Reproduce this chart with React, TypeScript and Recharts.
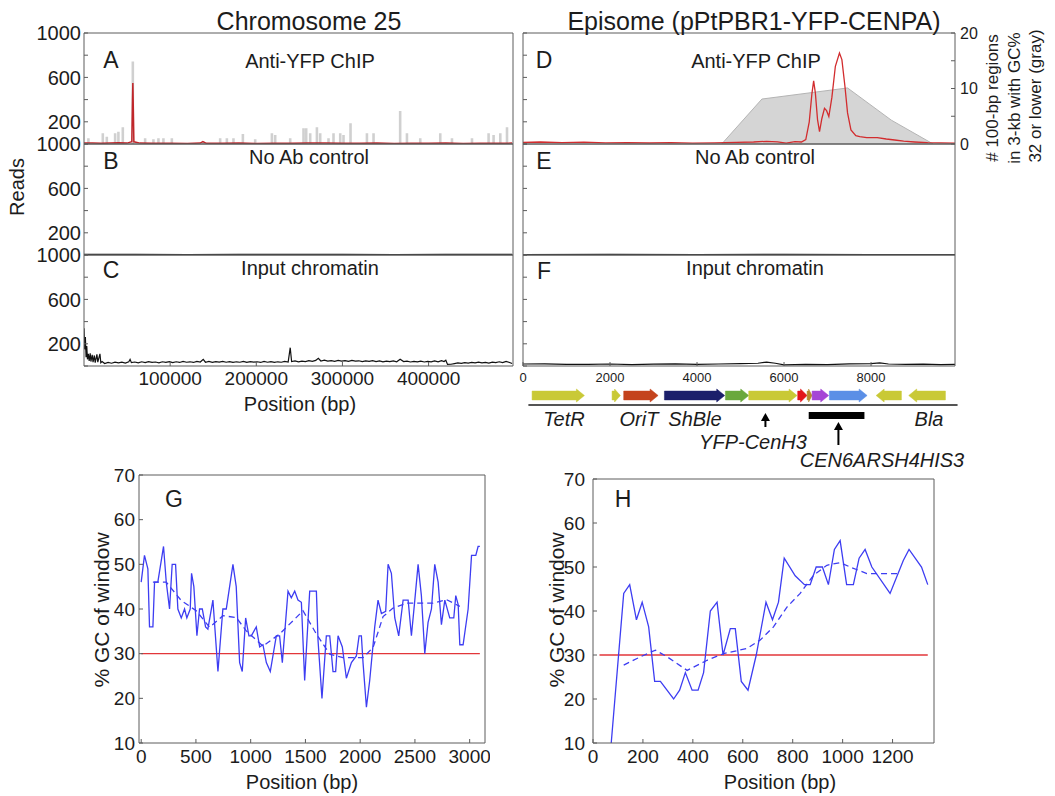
import React from 'react';
import { ComposedChart, Line, Area, XAxis, YAxis, ReferenceArea, ReferenceLine } from 'recharts';

const FONT = '"Liberation Sans", Arial, Helvetica, sans-serif';
const INK = '#1c1c1c';
const AX = '#5c5c5c';

// chromosome 25 (panels A-C)
const chrTicks = [100000, 200000, 300000, 400000];
const readTicks = [0, 200, 400, 600, 800, 1000];
const readLabels = [200, 600, 1000];

const chrGcPos = [5110, 21830, 26480, 36120, 39950, 45060, 56680, 70960, 80600, 86410, 92210, 101970, 138670, 158060, 165850, 173510, 184430, 198710, 218110, 221940, 239360, 254810, 257950, 262590, 270370, 274200, 283840, 289650, 297430, 301260, 309390, 328440, 336110, 367010, 374900, 390330, 413560, 427160, 450390, 469670, 475480, 483260, 491040];
const chrGcReads = [51, 96, 66, 96, 111, 150, 744, 51, 42, 51, 51, 51, 21, 51, 51, 51, 90, 42, 96, 81, 51, 142, 142, 96, 150, 96, 51, 96, 96, 81, 187, 96, 96, 298, 96, 51, 96, 51, 51, 96, 81, 96, 150];
const chrGcHalfWidth = 1500; // bp each side of a gray window bar

const chrChipPos = [0, 10000, 20000, 30000, 40000, 50000, 55500, 56300, 56700, 57100, 57900, 65000, 80000, 100000, 120000, 135000, 138000, 142000, 160000, 180000, 200000, 220000, 240000, 260000, 280000, 300000, 320000, 340000, 360000, 380000, 400000, 420000, 440000, 460000, 480000, 497000];
const chrChipReads = [8, 10, 6, 9, 12, 8, 20, 400, 550, 380, 20, 8, 6, 7, 5, 8, 22, 6, 6, 8, 5, 7, 6, 9, 8, 7, 6, 8, 5, 7, 6, 8, 5, 7, 6, 8];

const chrNoAbPos = [0, 60000, 120000, 180000, 240000, 300000, 360000, 420000, 497000];
const chrNoAbReads = [5, 6, 4, 5, 6, 5, 4, 5, 5];

const chrInputPos = [0, 800, 1600, 2400, 3200, 4000, 5000, 6000, 7200, 8000, 9500, 10500, 12000, 13000, 15000, 16000, 18500, 19500, 21000, 24000, 28000, 32000, 36000, 40000, 44000, 48000, 52000, 53500, 55000, 59000, 63000, 67000, 71000, 75000, 79000, 83000, 87000, 91000, 95000, 99000, 103000, 107000, 111000, 115000, 119000, 123000, 127000, 131000, 135000, 138400, 141000, 145000, 149000, 153000, 157000, 161000, 165000, 169000, 173000, 177000, 181000, 185000, 189000, 193000, 197000, 201000, 205000, 209000, 213000, 217000, 221000, 225000, 229000, 233000, 237000, 239400, 241000, 245000, 249000, 253000, 257000, 261000, 265000, 269000, 272000, 275000, 279000, 283000, 287000, 291000, 295000, 299000, 303000, 307000, 311000, 315000, 319000, 323000, 327000, 331000, 335000, 339000, 343000, 347000, 351000, 355000, 359000, 363000, 367000, 371000, 375000, 379000, 383000, 387000, 391000, 395000, 399000, 403000, 407000, 411000, 415000, 418000, 420000, 422000, 426000, 430000, 434000, 438000, 442000, 446000, 450000, 454000, 458000, 462000, 466000, 470000, 474000, 478000, 482000, 486000, 490000, 494000, 497000];
const chrInputReads = [340, 150, 260, 80, 180, 60, 110, 45, 115, 40, 100, 35, 95, 30, 105, 35, 110, 30, 40, 22, 32, 25, 35, 28, 34, 26, 38, 60, 30, 36, 28, 38, 30, 40, 32, 36, 28, 38, 33, 40, 30, 38, 32, 42, 34, 38, 32, 42, 36, 60, 34, 42, 33, 40, 35, 42, 34, 40, 32, 38, 34, 42, 33, 40, 35, 38, 32, 42, 34, 40, 33, 38, 34, 42, 36, 165, 40, 46, 38, 44, 40, 48, 42, 50, 70, 45, 52, 44, 48, 42, 50, 44, 48, 42, 50, 44, 47, 40, 46, 42, 48, 40, 46, 38, 44, 40, 46, 38, 60, 40, 44, 36, 42, 38, 44, 36, 42, 38, 46, 38, 48, 40, 52, 14, 16, 22, 28, 24, 30, 26, 32, 28, 34, 28, 32, 26, 34, 30, 38, 30, 42, 32, 22];

// episome (panels D-F)
const epiTicks = [0, 2000, 4000, 6000, 8000];
const gcCountTicks = [0, 5, 10, 15, 20];
const gcCountLabels = [0, 10, 20];

const epiChipPos = [0, 400, 900, 1400, 1900, 2400, 2900, 3400, 3900, 4400, 4900, 5300, 5600, 5850, 6050, 6250, 6400, 6500, 6580, 6640, 6681, 6720, 6770, 6816, 6870, 6930, 6978, 7030, 7100, 7180, 7274, 7330, 7400, 7460, 7538, 7650, 7741, 7900, 8143, 8350, 8543, 8750, 9000, 9300, 9600, 9930];
const epiChipReads = [14, 18, 12, 16, 10, 13, 9, 12, 8, 11, 14, 18, 24, 20, 8, 22, 18, 40, 200, 450, 569, 460, 220, 111, 230, 322, 300, 247, 420, 700, 819, 760, 520, 280, 127, 75, 66, 58, 57, 45, 36, 25, 18, 12, 10, 8];

const epiGcPos = [4568, 5492, 7460, 8465, 9428];
const epiGcCount = [0, 8.1, 10.1, 4.3, 0];

const epiNoAbPos = [0, 2000, 4000, 6000, 8000, 9930];
const epiNoAbReads = [4, 5, 4, 5, 4, 4];

const epiInputPos = [0, 500, 1000, 1500, 2000, 2500, 3000, 3500, 4000, 4500, 5000, 5400, 5600, 5800, 6000, 6500, 7000, 7500, 8000, 8200, 8400, 8800, 9200, 9600, 9930];
const epiInputReads = [18, 20, 15, 14, 18, 12, 16, 20, 14, 18, 22, 25, 35, 25, 10, 14, 12, 20, 22, 28, 18, 14, 16, 12, 14];

// plasmid map
const geneStart = [209, 2048, 2315, 3251, 4653, 5189, 6315, 6531, 6646, 7044, 8118, 8867];
const geneEnd = [1412, 2239, 3106, 4637, 5189, 6301, 6531, 6646, 7028, 7911, 8699, 9711];
const geneDir = [1, 1, 1, 1, 1, 1, 1, 1, 1, 1, -1, -1];
const geneColors = ['#c9c936', '#c9c936', '#c4431d', '#1b1f6b', '#6aa83c', '#c9c936', '#e3151a', '#b68a2c', '#a546d6', '#5b8fe6', '#c9c936', '#c9c936'];
const mapRange = [124, 9990];
const cenBlock = [6568, 7849];
const markPos = [5573, 7251];

// GC windows (panels G, H)
const gcChrPos = [0, 30, 61, 76, 107, 122, 152, 204, 229, 259, 283, 314, 335, 366, 396, 417, 448, 460, 481, 509, 533, 558, 588, 609, 655, 701, 746, 777, 838, 868, 899, 923, 954, 984, 1006, 1051, 1082, 1112, 1143, 1179, 1234, 1264, 1289, 1341, 1371, 1402, 1432, 1463, 1493, 1539, 1600, 1615, 1651, 1691, 1722, 1752, 1776, 1798, 1837, 1874, 1920, 1965, 1990, 2011, 2026, 2057, 2087, 2133, 2163, 2194, 2233, 2255, 2285, 2316, 2352, 2392, 2438, 2468, 2499, 2529, 2559, 2590, 2620, 2651, 2681, 2712, 2742, 2773, 2818, 2855, 2873, 2895, 2910, 2940, 2986, 3017, 3056, 3077, 3093];
const gcChrPct = [46, 52, 49, 36, 36, 46, 46, 54, 46, 40, 50, 50, 40, 38, 40, 38, 40, 48, 45, 34, 40, 40, 36, 35.5, 42, 26, 40, 40, 50, 45, 28, 26, 38, 34, 34, 36, 31.5, 32, 28, 26, 34, 34, 28, 44, 42.5, 44, 42, 41.5, 24, 44, 44, 33, 20, 34, 34, 26, 26, 34, 31.5, 24.5, 28, 29.5, 34, 34, 28, 18, 24, 36, 42, 39, 39.5, 50, 48, 38, 34, 42, 42, 34, 42, 50, 43, 30, 37, 40, 50, 46, 36.5, 42, 38, 38, 43, 41, 32, 32, 40, 52, 52, 54, 54];
const gcChrSmoothPos = [107, 229, 366, 503, 625, 746, 868, 960, 1112, 1264, 1478, 1600, 1722, 1843, 2026, 2118, 2209, 2300, 2422, 2544, 2666, 2788, 2910];
const gcChrSmoothPct = [46, 46, 41.9, 39.6, 35.9, 38.5, 38.1, 35.1, 31.7, 34.4, 39.6, 34.4, 29.9, 29.1, 29.1, 31.4, 38.3, 40.2, 41.3, 41.3, 41.3, 42.1, 40.6];
const gcChrCutPos = [0, 3093];

const gcEpiPos = [73, 123, 147, 174, 197, 223, 247, 270, 323, 347, 370, 397, 421, 443, 470, 497, 521, 550, 570, 594, 621, 654, 693, 719, 743, 766, 810, 847, 870, 894, 919, 943, 967, 990, 1016, 1043, 1066, 1090, 1117, 1190, 1243, 1266, 1316, 1341];
const gcEpiPct = [10, 44, 46, 38, 42, 36.4, 24, 24, 20, 22, 26, 22, 22, 26, 40, 42, 30, 36, 36, 24, 22, 30, 42, 38, 42, 52, 48, 46, 46, 50, 50, 46, 54, 56, 46, 46, 52, 54, 50, 44, 51.5, 54, 50, 46];
const gcEpiSmoothPos = [123, 190, 250, 297, 377, 457, 523, 617, 670, 723, 777, 830, 883, 937, 990, 1030, 1097, 1150, 1230];
const gcEpiSmoothPct = [27.7, 29.6, 31.1, 29.6, 26.5, 28.8, 30.3, 31.5, 33.4, 36.4, 40.9, 44, 48.1, 50.4, 51, 50, 48.5, 48.5, 48.5];
const gcEpiCutPos = [26, 1341];

const gcCutoff = 30;
const pctTicks = [10, 20, 30, 40, 50, 60, 70];

const pts = (xs: number[], ys: number[]) => xs.map((x, i) => ({ x, y: ys[i] }));

// thin gray window bars as an area outline
const barTable = (xs: number[], ys: number[], hw: number) =>
  xs.flatMap((x, i) => [
    { x: x - hw, y: 0 },
    { x: x - hw, y: ys[i] },
    { x: x + hw, y: ys[i] },
    { x: x + hw, y: 0 },
  ]);

const Txt = ({ x, y, size, italic, rotate, children }: { x: number; y: number; size: number; italic?: boolean; rotate?: boolean; children: React.ReactNode }) => (
  <div
    style={{
      position: 'absolute',
      left: x,
      top: y,
      transform: `translate(-50%, -50%)${rotate ? ' rotate(-90deg)' : ''}`,
      fontSize: size,
      fontFamily: FONT,
      fontStyle: italic ? 'italic' : 'normal',
      whiteSpace: 'nowrap',
      lineHeight: 1,
      color: INK,
    }}
  >
    {children}
  </div>
);

type TrackProps = {
  left: number;
  top: number;
  w: number;
  h: number;
  domain: [number, number];
  ticks: number[];
  xFont?: number;
  xMargin?: number;
  yLabels?: boolean;
  rightAxis?: boolean;
  data?: any[];
  children?: React.ReactNode;
};

function Track(p: TrackProps) {
  const YW = 70;
  const RW = p.rightAxis ? 40 : 1;
  const XH = p.xFont ? 34 : 1;
  const fmtLeft = (v: number) => (p.yLabels && readLabels.includes(v) ? String(v) : '');
  return (
    <div style={{ position: 'absolute', left: p.left - YW, top: p.top - 14 }}>
      <ComposedChart
        width={YW + p.w + RW + 2}
        height={14 + p.h + XH + 12}
        data={p.data}
        margin={{ top: 13, right: 2, bottom: 12, left: 0 }}
      >
        <XAxis
          xAxisId="b"
          type="number"
          dataKey="x"
          domain={p.domain}
          ticks={p.ticks}
          allowDataOverflow
          interval={0}
          height={XH}
          stroke={AX}
          tickSize={-4}
          tickMargin={p.xMargin ?? 10}
          tick={p.xFont ? { fontSize: p.xFont, fill: INK, fontFamily: FONT } : false}
        />
        <XAxis xAxisId="t" orientation="top" type="number" domain={p.domain} ticks={p.ticks} allowDataOverflow interval={0} height={1} stroke={AX} tickSize={-4} tick={false} />
        <YAxis
          yAxisId="l"
          type="number"
          domain={[0, 1000]}
          ticks={readTicks}
          allowDataOverflow
          interval={0}
          width={YW}
          stroke={AX}
          tickSize={-4}
          tickMargin={7}
          tickFormatter={fmtLeft}
          tick={{ fontSize: 20, fill: INK, fontFamily: FONT }}
        />
        {p.rightAxis ? (
          <YAxis
            yAxisId="r"
            orientation="right"
            type="number"
            domain={[0, 20]}
            ticks={gcCountTicks}
            allowDataOverflow
            interval={0}
            width={RW}
            stroke={AX}
            tickSize={-4}
            tickMargin={9}
            tickFormatter={(v: number) => (gcCountLabels.includes(v) ? String(v) : '')}
            tick={{ fontSize: 16, fill: INK, fontFamily: FONT }}
          />
        ) : (
          <YAxis yAxisId="r" orientation="right" type="number" domain={[0, 1000]} ticks={readTicks} allowDataOverflow interval={0} width={1} stroke={AX} tickSize={-4} tick={false} />
        )}
        {p.children}
      </ComposedChart>
    </div>
  );
}

type GcProps = {
  left: number;
  top: number;
  w: number;
  h: number;
  domain: [number, number];
  ticks: number[];
  yMargin: number;
  solid: { x: number; y: number }[];
  smooth: { x: number; y: number }[];
  cut: { x: number; y: number }[];
};

function GcPanel(p: GcProps) {
  const YW = 60;
  return (
    <div style={{ position: 'absolute', left: p.left - YW, top: p.top - 14 }}>
      <ComposedChart width={YW + p.w + 1 + 4} height={14 + p.h + 40 + 2} margin={{ top: 13, right: 4, bottom: 2, left: 0 }}>
        <XAxis
          xAxisId="b"
          type="number"
          dataKey="x"
          domain={p.domain}
          ticks={p.ticks}
          allowDataOverflow
          interval={0}
          height={40}
          stroke={AX}
          tickSize={-4}
          tickMargin={11}
          tick={{ fontSize: 19, fill: INK, fontFamily: FONT }}
        />
        <XAxis xAxisId="t" orientation="top" type="number" domain={p.domain} ticks={p.ticks} allowDataOverflow interval={0} height={1} stroke={AX} tickSize={-4} tick={false} />
        <YAxis
          yAxisId="l"
          type="number"
          domain={[10, 70]}
          ticks={pctTicks}
          allowDataOverflow
          interval={0}
          width={YW}
          stroke={AX}
          tickSize={-4}
          tickMargin={p.yMargin}
          tick={{ fontSize: 19, fill: INK, fontFamily: FONT }}
        />
        <YAxis yAxisId="r" orientation="right" type="number" domain={[10, 70]} ticks={pctTicks} allowDataOverflow interval={0} width={1} stroke={AX} tickSize={-4} tick={false} />
        <Line xAxisId="b" yAxisId="l" data={p.cut} dataKey="y" stroke="#e2363a" strokeWidth={1.3} dot={false} activeDot={false} isAnimationActive={false} />
        <Line xAxisId="b" yAxisId="l" data={p.smooth} dataKey="y" stroke="#3d3df2" strokeWidth={1.3} strokeDasharray="6 4" dot={false} activeDot={false} isAnimationActive={false} />
        <Line xAxisId="b" yAxisId="l" data={p.solid} dataKey="y" stroke="#3d3df2" strokeWidth={1.3} dot={false} activeDot={false} isAnimationActive={false} />
      </ComposedChart>
    </div>
  );
}

const geneShape = (dir: number, color: string) => (props: any) => {
  const { x, y, width, height } = props;
  const head = Math.min(8, width * 0.7);
  const t = height * 0.16;
  const b = y + height;
  const m = y + height / 2;
  let pts: number[][];
  if (dir > 0) {
    const hx = x + width - head;
    pts = [[x, y + t], [hx, y + t], [hx, y], [x + width, m], [hx, b], [hx, b - t], [x, b - t]];
  } else {
    const hx = x + head;
    pts = [[x + width, y + t], [hx, y + t], [hx, y], [x, m], [hx, b], [hx, b - t], [x + width, b - t]];
  }
  return <polygon points={pts.map((q) => q.join(',')).join(' ')} fill={color} stroke={color} strokeWidth={0.5} />;
};

const upArrow = (props: any) => {
  const { x1, y1, x2, y2 } = props;
  const top = Math.min(y1, y2);
  const bottom = Math.max(y1, y2);
  return (
    <g>
      <line x1={x1} x2={x2} y1={top + 5} y2={bottom} stroke="#000" strokeWidth={2} />
      <polygon points={`${x1 - 4.5},${top + 8} ${x1 + 4.5},${top + 8} ${x1},${top}`} fill="#000" />
    </g>
  );
};

const LEFT = { left: 84, w: 429 };
const RIGHT = { left: 523, w: 432 };
const chrDomain: [number, number] = [0, 498000];
const epiDomain: [number, number] = [0, 9930];

export default function App() {
  return (
    <div style={{ position: 'absolute', left: 0, top: 0, width: 1055, height: 796, background: '#fff', overflow: 'hidden' }}>
      {/* left column */}
      <Track {...LEFT} top={33} h={111} domain={chrDomain} ticks={chrTicks} yLabels data={barTable(chrGcPos, chrGcReads, chrGcHalfWidth)}>
        <Area xAxisId="b" yAxisId="l" dataKey="y" type="linear" fill="#d0d0d0" fillOpacity={1} stroke="none" dot={false} activeDot={false} isAnimationActive={false} />
        <Line xAxisId="b" yAxisId="l" data={pts(chrChipPos, chrChipReads)} dataKey="y" stroke="#c0262a" strokeWidth={1.5} dot={false} activeDot={false} isAnimationActive={false} />
      </Track>
      <Track {...LEFT} top={144} h={111} domain={chrDomain} ticks={chrTicks} yLabels>
        <Line xAxisId="b" yAxisId="l" data={pts(chrNoAbPos, chrNoAbReads)} dataKey="y" stroke="#111" strokeWidth={1.2} dot={false} activeDot={false} isAnimationActive={false} />
      </Track>
      <Track {...LEFT} top={255} h={111} domain={chrDomain} ticks={chrTicks} yLabels xFont={19} xMargin={10}>
        <Line xAxisId="b" yAxisId="l" data={pts(chrInputPos, chrInputReads)} dataKey="y" stroke="#111" strokeWidth={1.2} dot={false} activeDot={false} isAnimationActive={false} />
      </Track>

      {/* right column */}
      <Track {...RIGHT} top={33} h={111} domain={epiDomain} ticks={epiTicks} rightAxis data={pts(epiGcPos, epiGcCount)}>
        <Area xAxisId="b" yAxisId="r" dataKey="y" type="linear" fill="#d5d5d5" fillOpacity={1} stroke="#b4b4b4" strokeWidth={1} dot={false} activeDot={false} isAnimationActive={false} />
        <Line xAxisId="b" yAxisId="l" data={pts(epiChipPos, epiChipReads)} dataKey="y" stroke="#d22c2e" strokeWidth={1.3} dot={false} activeDot={false} isAnimationActive={false} />
      </Track>
      <Track {...RIGHT} top={144} h={111} domain={epiDomain} ticks={epiTicks}>
        <Line xAxisId="b" yAxisId="l" data={pts(epiNoAbPos, epiNoAbReads)} dataKey="y" stroke="#111" strokeWidth={1.2} dot={false} activeDot={false} isAnimationActive={false} />
      </Track>
      <Track {...RIGHT} top={255} h={111} domain={epiDomain} ticks={epiTicks} xFont={13} xMargin={11}>
        <Line xAxisId="b" yAxisId="l" data={pts(epiInputPos, epiInputReads)} dataKey="y" stroke="#111" strokeWidth={1.2} dot={false} activeDot={false} isAnimationActive={false} />
      </Track>

      {/* plasmid map */}
      <div style={{ position: 'absolute', left: 523, top: 385 }}>
        <ComposedChart width={435} height={80} data={pts(geneStart, geneEnd)} margin={{ top: 0, right: 0, bottom: 0, left: 0 }}>
          <XAxis xAxisId="g" type="number" dataKey="x" domain={[0, 10000]} allowDataOverflow hide />
          <YAxis yAxisId="g" type="number" domain={[0, 80]} reversed allowDataOverflow hide />
          <ReferenceLine xAxisId="g" yAxisId="g" segment={[{ x: mapRange[0], y: 20 }, { x: mapRange[1], y: 20 }]} stroke="#555" strokeWidth={2} ifOverflow="visible" />
          {geneStart.map((s, i) => (
            <ReferenceArea key={i} xAxisId="g" yAxisId="g" x1={s} x2={geneEnd[i]} y1={4} y2={17} ifOverflow="visible" shape={geneShape(geneDir[i], geneColors[i])} />
          ))}
          <ReferenceArea xAxisId="g" yAxisId="g" x1={cenBlock[0]} x2={cenBlock[1]} y1={27} y2={34} fill="#000" fillOpacity={1} stroke="none" ifOverflow="visible" />
          <ReferenceLine xAxisId="g" yAxisId="g" segment={[{ x: markPos[0], y: 42 }, { x: markPos[0], y: 28 }]} shape={upArrow} ifOverflow="visible" />
          <ReferenceLine xAxisId="g" yAxisId="g" segment={[{ x: markPos[1], y: 60 }, { x: markPos[1], y: 37 }]} shape={upArrow} ifOverflow="visible" />
        </ComposedChart>
      </div>

      {/* GC panels */}
      <GcPanel left={139} top={475} w={346} h={268} domain={[-20, 3140]} ticks={[0, 500, 1000, 1500, 2000, 2500, 3000]} yMargin={8}
        solid={pts(gcChrPos, gcChrPct)} smooth={pts(gcChrSmoothPos, gcChrSmoothPct)} cut={gcChrCutPos.map((x) => ({ x, y: gcCutoff }))} />
      <GcPanel left={593} top={479} w={341} h={264} domain={[0, 1366]} ticks={[0, 200, 400, 600, 800, 1000, 1200]} yMargin={12}
        solid={pts(gcEpiPos, gcEpiPct)} smooth={pts(gcEpiSmoothPos, gcEpiSmoothPct)} cut={gcEpiCutPos.map((x) => ({ x, y: gcCutoff }))} />

      {/* titles and labels */}
      <Txt x={309} y={21} size={25}>Chromosome 25</Txt>
      <Txt x={754} y={21} size={25}>Episome (pPtPBR1-YFP-CENPA)</Txt>
      <Txt x={17} y={187} size={20} rotate>Reads</Txt>
      <Txt x={300} y={404} size={20}>Position (bp)</Txt>

      <Txt x={111} y={60} size={23}>A</Txt>
      <Txt x={111} y={161} size={23}>B</Txt>
      <Txt x={111} y={270} size={23}>C</Txt>
      <Txt x={310} y={61} size={20}>Anti-YFP ChIP</Txt>
      <Txt x={309} y={157} size={20}>No Ab control</Txt>
      <Txt x={310} y={268} size={20}>Input chromatin</Txt>

      <Txt x={544} y={60} size={23}>D</Txt>
      <Txt x={544} y={161} size={23}>E</Txt>
      <Txt x={544} y={271} size={23}>F</Txt>
      <Txt x={756} y={61} size={20}>Anti-YFP ChIP</Txt>
      <Txt x={755} y={157} size={20}>No Ab control</Txt>
      <Txt x={755} y={268} size={20}>Input chromatin</Txt>

      <Txt x={992} y={98} size={17} rotate># 100-bp regions</Txt>
      <Txt x={1014} y={98} size={17} rotate>in 3-kb with GC%</Txt>
      <Txt x={1035} y={96} size={17} rotate>32 or lower (gray)</Txt>

      <Txt x={564} y={419} size={20} italic>TetR</Txt>
      <Txt x={639} y={419} size={20} italic>OriT</Txt>
      <Txt x={695} y={419} size={20} italic>ShBle</Txt>
      <Txt x={929} y={419} size={20} italic>Bla</Txt>
      <Txt x={753} y={442} size={20} italic>YFP-CenH3</Txt>
      <Txt x={882} y={460} size={20} italic>CEN6ARSH4HIS3</Txt>

      <Txt x={174} y={499} size={23}>G</Txt>
      <Txt x={623} y={499} size={23}>H</Txt>
      <Txt x={101} y={610} size={21} rotate>% GC of window</Txt>
      <Txt x={556} y={610} size={21} rotate>% GC of window</Txt>
      <Txt x={302} y={782} size={20}>Position (bp)</Txt>
      <Txt x={780} y={782} size={20}>Position (bp)</Txt>
    </div>
  );
}
